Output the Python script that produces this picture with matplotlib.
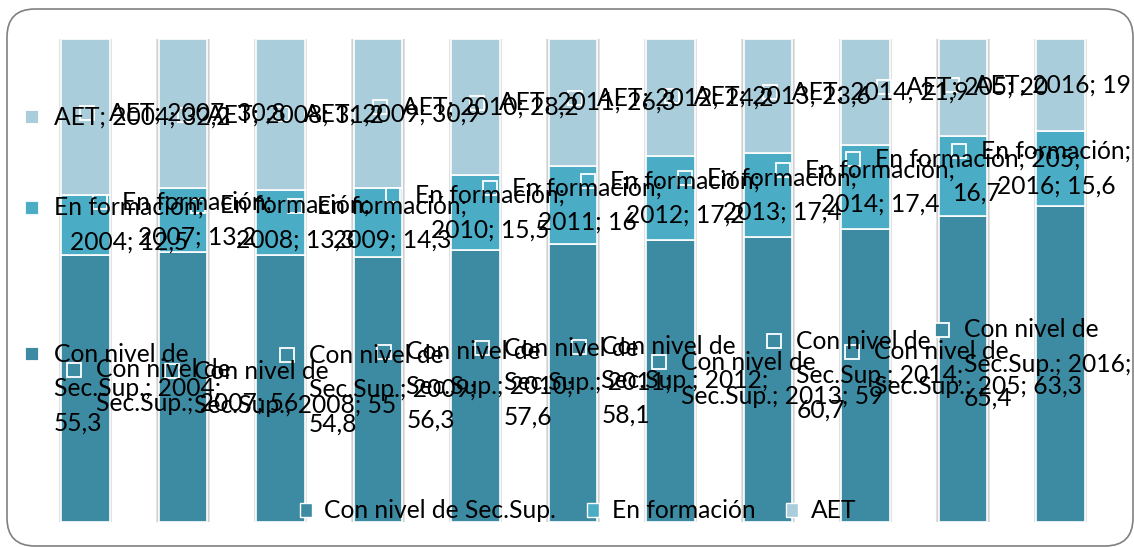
import matplotlib
matplotlib.use('Agg')
import matplotlib.pyplot as plt
from matplotlib.patches import FancyBboxPatch, Rectangle, Patch
from matplotlib.transforms import IdentityTransform
from matplotlib.font_manager import FontProperties
import numpy as np

years = ['2004', '2007', '2008', '2009', '2010', '2011', '2012', '2013', '2014', '205', '2016']
con_nivel = [55.3, 56, 55, 54.8, 56.3, 57.6, 58.1, 59, 60.7, 63.3, 65.4]
en_formacion = [12.5, 13.2, 13.3, 14.3, 15.5, 16, 17.2, 17.4, 17.4, 16.7, 15.6]
aet = [32.2, 30.8, 31.2, 30.9, 28.2, 26.3, 24.2, 23.6, 21.9, 20, 19]

series_names = ['Con nivel de Sec.Sup.', 'En formación', 'AET']
colors = ['#3C8BA3', '#4BACC6', '#A9CDDB']
label_align = ['left', 'center', 'center']

W, H = 1134, 547
fig = plt.figure(figsize=(W / 100, H / 100), dpi=100)
ax = fig.add_axes([36.75 / W, 25 / H, 1072.5 / W, 483 / H])
ax.set_xlim(-0.5, len(years) - 0.5)
ax.set_ylim(0, 100)
ax.axis('off')

data = np.array([con_nivel, en_formacion, aet], dtype=float)
pct = data / data.sum(axis=0) * 100   # 100% stacked
x = np.arange(len(years))
bottoms = np.vstack([np.zeros(len(years)), np.cumsum(pct, axis=0)[:-1]])

# soft grey shadow behind each column
ax.bar(x, 100.9, bottom=-0.7, width=0.545, color='#e2e2e2', zorder=1)
ax.bar(x, 100.5, bottom=-0.4, width=0.525, color='#d0d0d0', zorder=1)
for k in range(3):
    ax.bar(x, pct[k], bottom=bottoms[k], width=0.5, color=colors[k],
           edgecolor='white', linewidth=1.2, zorder=2)

fs = 17.7
prop = FontProperties(family='Lato', size=fs)
renderer = fig.canvas.get_renderer()
font_px = fs * 100 / 72
max_w = 8.75 * font_px
lsp = 1.6


def text_w(s):
    w, h, d = renderer.get_text_width_height_descent(s, prop, ismath=False)
    return w


def wrap(s):
    lines, cur = [], ''
    for word in s.split(' '):
        trial = word if not cur else cur + ' ' + word
        if cur and text_w(trial) > max_w:
            lines.append(cur)
            cur = word
        else:
            cur = trial
    lines.append(cur)
    return lines


def fmt(v):
    return f'{v:g}'.replace('.', ',')


# distance between lines, measured from a two-line sample
t1 = fig.text(0, 0, 'Ag', fontproperties=prop, linespacing=lsp)
t2 = fig.text(0, 0, 'Ag\nAg', fontproperties=prop, linespacing=lsp)
pitch = t2.get_window_extent(renderer).height - t1.get_window_extent(renderer).height
t1.remove()
t2.remove()

ident = IdentityTransform()
for k in range(3):
    for i in range(len(years)):
        lines = wrap(f'{series_names[k]}; {years[i]}; {fmt(data[k, i])}')
        tw = max(text_w(l) for l in lines)
        cx, cy = ax.transData.transform((x[i], bottoms[k, i] + pct[k, i] / 2))
        mx = cx - tw / 2 - 7.5
        mx = min(max(mx, 32), W - 25 - tw)
        fy = cy + (len(lines) - 1) * pitch / 2
        tx = mx + 22 if label_align[k] == 'left' else mx + 22 + tw / 2
        fig.text(tx, cy, '\n'.join(lines), transform=ident, fontproperties=prop,
                 ha=label_align[k], va='center', multialignment=label_align[k],
                 linespacing=lsp, color='black', zorder=5)
        fig.add_artist(Rectangle((mx - 7, fy - 7), 14, 14, transform=ident,
                                 facecolor=colors[k], edgecolor='white',
                                 linewidth=1.3, zorder=4))

handles = [Patch(facecolor=c, edgecolor='white', linewidth=1) for c in colors]
fig.legend(handles, series_names, loc='center', bbox_to_anchor=(578 / W, 36 / H),
           ncol=3, frameon=False, prop=prop, handlelength=0.5, handleheight=0.5,
           handletextpad=0.5, columnspacing=1.25, borderpad=0, borderaxespad=0)

frame = FancyBboxPatch((7, 1), 1126, 537, boxstyle='round,pad=0,rounding_size=28',
                       transform=ident, facecolor='none', edgecolor='#808080',
                       linewidth=1.2)
fig.add_artist(frame)

fig.savefig('out.png', dpi=100)
